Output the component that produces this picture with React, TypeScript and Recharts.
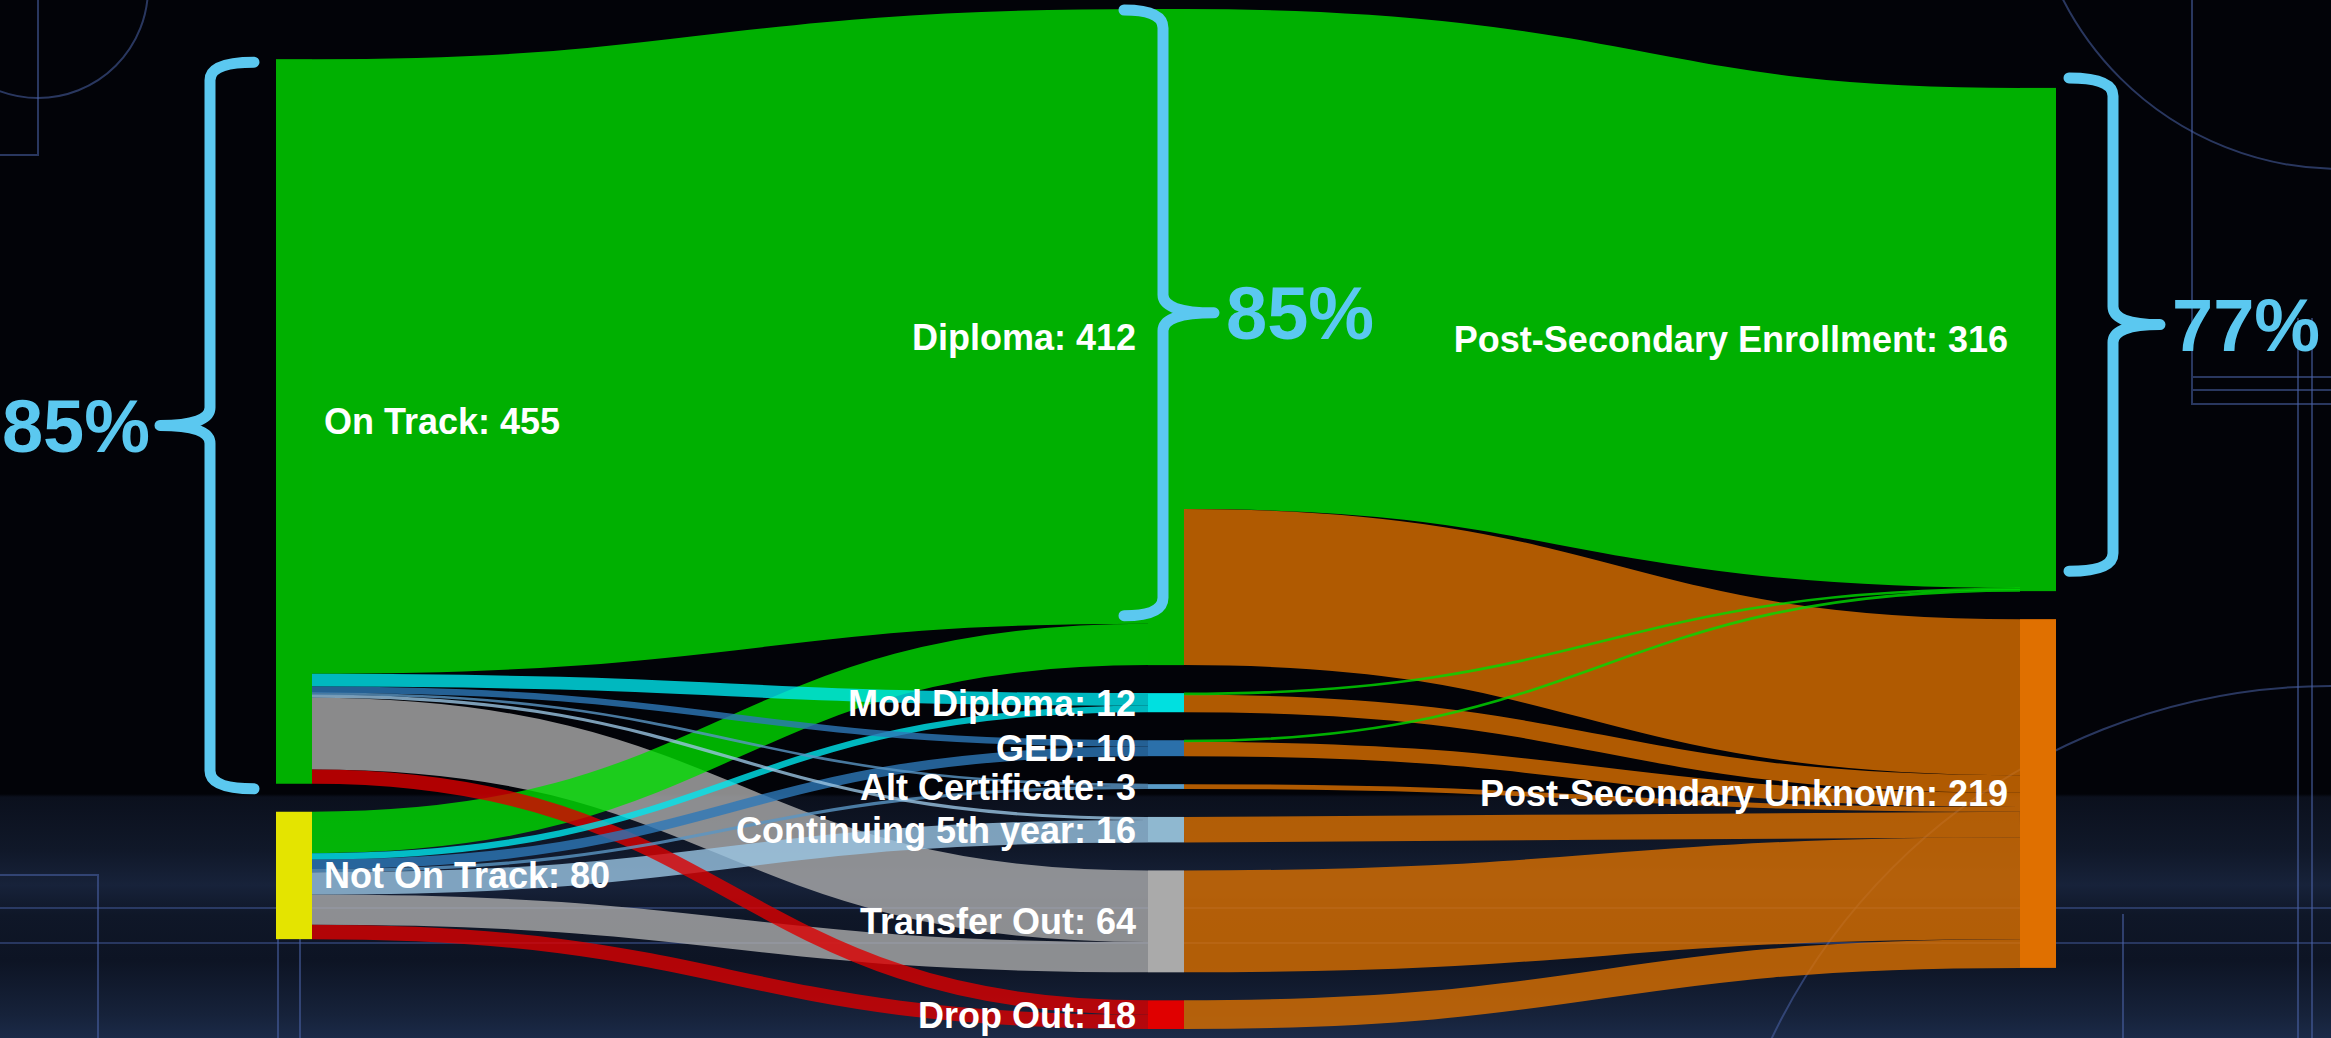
import { Sankey } from "recharts";

// stages of the flow
const STARTS = ["On Track", "Not On Track"];
const OUTCOMES = [
  "Diploma",
  "Mod Diploma",
  "GED",
  "Alt Certificate",
  "Continuing 5th year",
  "Transfer Out",
  "Drop Out",
];
const DESTINATIONS = ["Post-Secondary Enrollment", "Post-Secondary Unknown"];

// students per outcome, by start group
const FROM_ON_TRACK = [386, 8, 4, 1, 2, 45, 9];
const FROM_NOT_ON_TRACK = [26, 4, 6, 2, 14, 19, 9];

// students per outcome, by destination
const TO_ENROLLMENT = [314, 1, 1, 0, 0, 0, 0];
const TO_UNKNOWN = [98, 11, 9, 3, 16, 64, 18];

const NODE_COLORS: Record<string, string> = {
  "On Track": "#00b000",
  "Not On Track": "#e4e400",
  Diploma: "#00b000",
  "Mod Diploma": "#00e0e0",
  GED: "#2b70aa",
  "Alt Certificate": "#5a9cc8",
  "Continuing 5th year": "#8fb8d0",
  "Transfer Out": "#aaaaaa",
  "Drop Out": "#e00000",
  "Post-Secondary Enrollment": "#00b000",
  "Post-Secondary Unknown": "#e07000",
};

const LINK_COLORS: Record<string, string> = {
  Diploma: "#00dc00",
  "Mod Diploma": "#00e6ee",
  GED: "#2d78b8",
  "Alt Certificate": "#5a96c4",
  "Continuing 5th year": "#9ac4e2",
  "Transfer Out": "#adadad",
  "Drop Out": "#dc0000",
  "Post-Secondary Enrollment": "#00dc00",
  "Post-Secondary Unknown": "#dc7000",
};

const BRACE = "#5bc8f0";
const FONT = "'Liberation Sans', Arial, Helvetica, sans-serif";
const W = 2331;
const H = 1038;

type Link = { source: number; target: number; value: number };

// first half: start group -> outcome
const nodesA = [...STARTS, ...OUTCOMES].map((name) => ({ name }));
const linksA: Link[] = [];
OUTCOMES.forEach((_, i) => {
  linksA.push({ source: 0, target: 2 + i, value: FROM_ON_TRACK[i] });
  linksA.push({ source: 1, target: 2 + i, value: FROM_NOT_ON_TRACK[i] });
});

// second half: outcome -> destination
const nodesB = [...OUTCOMES, ...DESTINATIONS].map((name) => ({ name }));
const linksB: Link[] = [];
OUTCOMES.forEach((_, i) => {
  linksB.push({ source: i, target: 7, value: TO_ENROLLMENT[i] });
  linksB.push({ source: i, target: 8, value: TO_UNKNOWN[i] });
});

// big flows underneath, thin flows drawn on top
const prep = (ls: Link[]) => ls.filter((l) => l.value > 0).sort((a, b) => b.value - a.value);

const sum = (arr: number[]) => arr.reduce((a, b) => a + b, 0);
const total = sum(FROM_ON_TRACK) + sum(FROM_NOT_ON_TRACK);
const pct = (a: number, b: number) => `${Math.round((a / b) * 100)}%`;

function bracePath(lineX: number, y0: number, y1: number, dir: number, tipLen: number, midLen: number) {
  const r = 18;
  const ym = (y0 + y1) / 2;
  const tipX = lineX + dir * tipLen;
  const midX = lineX - dir * midLen;
  return (
    `M${tipX},${y0} Q${lineX},${y0} ${lineX},${y0 + r} L${lineX},${ym - r} ` +
    `Q${lineX},${ym} ${midX},${ym} Q${lineX},${ym} ${lineX},${ym + r} ` +
    `L${lineX},${y1 - r} Q${lineX},${y1} ${tipX},${y1}`
  );
}

function Brace({ lineX, y0, y1, dir, tipLen, midLen, label }: any) {
  const ym = (y0 + y1) / 2;
  const midX = lineX - dir * midLen;
  return (
    <g>
      <path
        d={bracePath(lineX, y0, y1, dir, tipLen, midLen)}
        fill="none"
        stroke={BRACE}
        strokeWidth={11}
        strokeLinecap="round"
        strokeLinejoin="round"
      />
      <text
        x={dir > 0 ? midX - 10 : midX + 12}
        y={ym}
        dy="0.36em"
        textAnchor={dir > 0 ? "end" : "start"}
        fill={BRACE}
        fontSize={74}
        fontWeight="bold"
        fontFamily={FONT}
      >
        {label}
      </text>
    </g>
  );
}

function FlowNode(props: any) {
  const { x, y, width, height, payload, onlyStarts } = props;
  const name: string = payload.name;
  const first = STARTS.includes(name);
  if (onlyStarts && !first) return <g />;
  let brace = null;
  if (name === "On Track") {
    brace = (
      <Brace lineX={x - 66} y0={y + 3} y1={y + height + 5} dir={1} tipLen={44} midLen={50}
        label={pct(sum(FROM_ON_TRACK), total)} />
    );
  } else if (name === "Diploma") {
    const part = (height * FROM_ON_TRACK[0]) / payload.value;
    brace = (
      <Brace lineX={x + 15} y0={y + 1} y1={y + part - 8} dir={-1} tipLen={39} midLen={51}
        label={pct(FROM_ON_TRACK[0], sum(FROM_ON_TRACK))} />
    );
  } else if (name === "Post-Secondary Enrollment") {
    brace = (
      <Brace lineX={x + width + 57} y0={y - 10} y1={y + height - 20} dir={-1} tipLen={44} midLen={47}
        label={pct(sum(TO_ENROLLMENT), FROM_ON_TRACK[0] + FROM_NOT_ON_TRACK[0])} />
    );
  }
  return (
    <g>
      <rect x={x} y={y} width={width} height={height} fill={NODE_COLORS[name]} />
      <text
        x={first ? x + width + 12 : x - 12}
        y={y + height / 2}
        dy="0.36em"
        textAnchor={first ? "start" : "end"}
        fill="#ffffff"
        fontSize={36}
        fontWeight="bold"
        fontFamily={FONT}
      >
        {`${name}: ${payload.value}`}
      </text>
      {brace}
    </g>
  );
}

function FlowLink(props: any) {
  const { sourceX, sourceY, sourceControlX, targetX, targetY, targetControlX, linkWidth, payload } = props;
  const t = payload?.target;
  const targetName = typeof t === "number" ? undefined : t?.name;
  return (
    <path
      d={`M${sourceX},${sourceY}C${sourceControlX},${sourceY} ${targetControlX},${targetY} ${targetX},${targetY}`}
      fill="none"
      stroke={LINK_COLORS[targetName] ?? "#888"}
      strokeWidth={Math.max(linkWidth, 2.6)}
      strokeOpacity={0.8}
    />
  );
}

function Backdrop() {
  const line = { stroke: "#4a62a8", strokeOpacity: 0.55, strokeWidth: 2, fill: "none" };
  return (
    <svg width={W} height={H} style={{ position: "absolute", left: 0, top: 0 }}>
      <circle cx={38} cy={-12} r={110} {...line} />
      <path d="M38,0 L38,155 L0,155" {...line} />
      <circle cx={2340} cy={-142} r={311} {...line} />
      <path d="M2192,0 L2192,404 L2331,404 M2192,377 L2331,377 M2192,390 L2331,390" {...line} />
      <path d="M2298,318 L2298,1038 M2312,318 L2312,1038" {...line} />
      <circle cx={2331} cy={1306} r={620} {...line} />
      <path d="M0,875 L98,875 L98,1038 M278,932 L278,1038 M300,932 L300,1038" {...line} />
      <path d="M2123,914 L2123,1038" {...line} />
      <path d="M0,908 L2331,908 M0,943 L2331,943" {...line} strokeOpacity={0.45} />
    </svg>
  );
}

const layer: React.CSSProperties = { position: "absolute", left: 0, top: 0 };

export default function App() {
  return (
    <div
      style={{
        position: "relative",
        width: W,
        height: H,
        overflow: "hidden",
        background:
          "linear-gradient(to bottom, #020308 0px, #020308 794px, #0b101d 797px, #101829 850px, #17223a 885px, #0f1728 915px, #0d1424 960px, #16223a 1015px, #1b2a48 1038px)",
      }}
    >
      <style>{"body{margin:0;background:#020308}"}</style>
      <Backdrop />
      <div style={layer}>
        <Sankey
          width={W}
          height={H}
          data={{ nodes: nodesA, links: prep(linksA) }}
          nodeWidth={36}
          nodePadding={28}
          linkCurvature={0.5}
          iterations={32}
          sort={false}
          margin={{ top: 9, right: 1147, bottom: 9, left: 276 }}
          node={<FlowNode onlyStarts />}
          link={<FlowLink />}
        />
      </div>
      <div style={layer}>
        <Sankey
          width={W}
          height={H}
          data={{ nodes: nodesB, links: prep(linksB) }}
          nodeWidth={36}
          nodePadding={28}
          linkCurvature={0.5}
          iterations={32}
          sort={false}
          margin={{ top: 9, right: 275, bottom: 9, left: 1148 }}
          node={<FlowNode />}
          link={<FlowLink />}
        />
      </div>
    </div>
  );
}
